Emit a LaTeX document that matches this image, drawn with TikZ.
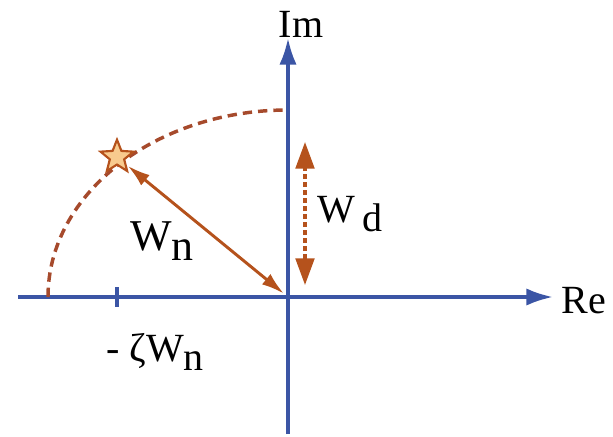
\documentclass[tikz,border=0pt]{standalone}
\usepackage{fontspec}
\newfontfamily\timesfont{LiberationSerif-Regular.ttf}
\usetikzlibrary{arrows.meta,positioning,calc,shapes.geometric}
\definecolor{axisblue}{HTML}{3B55A5}
\definecolor{rust}{HTML}{B5521C}
\definecolor{arcred}{HTML}{A64A2C}
\definecolor{starfill}{HTML}{F8CB8E}
\newcommand{\lowsub}[1]{\raisebox{-7pt}{#1}}
\tikzset{axisline/.style={-{Latex[length=20pt,width=13pt]},line width=2.6pt,draw=axisblue},
  radius arrow/.style={{Latex[length=17pt,width=10pt]}-{Latex[length=17pt,width=10pt]},line width=2.2pt,draw=rust},
  damp arrow/.style={{Triangle[length=20pt,width=14pt]}-{Triangle[length=20pt,width=14pt]},line width=2.4pt,draw=rust,dash pattern=on 3.5pt off 2.5pt},
  label/.style={font=\timesfont\fontsize{30}{34}\selectfont,inner sep=0pt}}
\begin{document}
\begin{tikzpicture}[x=0.75pt,y=-0.75pt]
\useasboundingbox (0,0) rectangle (613,436);
% axes
\coordinate (O) at (288,297);
\coordinate (reL) at (18,297);
\coordinate (reR) at (553,297);
\coordinate (imB) at (288,434);
\coordinate (imT) at (288,38);
\draw[axisline] (reL) -- (reR);
\draw[axisline] (imB) -- (imT);
\node[label] (im) at (301,24) {Im};
\node[label] (re) at (584,301) {Re};
% tick at -zeta Wn
\coordinate (tick) at (117,297);
\draw[axisblue,line width=2.6pt] ($(tick)+(0,-10)$) -- ($(tick)+(0,10)$);
\node[label] (zw) at (155,352) {- ζW\lowsub{n}};
% locus of the pole
\draw[arcred,line width=2.6pt,dash pattern=on 7pt off 4.5pt] (48,297) arc[start angle=180,end angle=270,x radius=240,y radius=187];
\node[star,star points=5,star point ratio=2.3,draw=rust,fill=starfill,line width=1.6pt,minimum size=26pt,inner sep=0pt] (pole) at (117,157) {};
\draw[radius arrow,shorten <=1pt,shorten >=4pt] (pole) -- (O);
\node[label,font=\timesfont\fontsize{33}{36}\selectfont] (wn) at (162,241) {W\lowsub{n}};
% damped frequency
\coordinate (wdT) at (305,142);
\coordinate (wdB) at (305,285);
\draw[damp arrow] (wdB) -- (wdT);
\node[label] (wd) at (350,214) {W\,\lowsub{d}};
\end{tikzpicture}
\end{document}
